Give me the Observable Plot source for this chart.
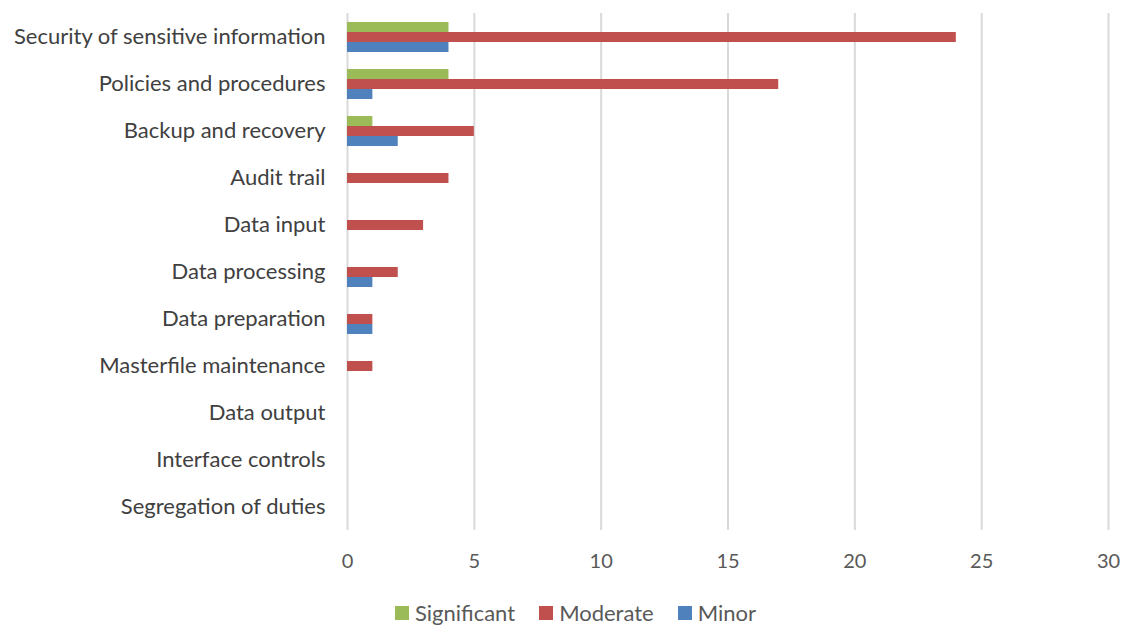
<!DOCTYPE html>
<html>
<head>
<meta charset="utf-8">
<script src="https://cdn.jsdelivr.net/npm/d3@7"></script>
<script src="https://cdn.jsdelivr.net/npm/@observablehq/plot@0.6"></script>
<style>
  html, body { margin: 0; padding: 0; background: #fff; }
  #chart { width: 1121px; }
  .legend { display: flex; justify-content: center; align-items: center; gap: 24px; padding-left: 30px;
            font-family: Lato, "Open Sans", sans-serif; font-size: 22px; color: #595959; margin-top: 7px; }
  .legend .item { display: flex; align-items: center; gap: 6px; }
  .legend .sw { width: 14px; height: 14px; display: inline-block; }
</style>
</head>
<body>
<div id="chart"></div>
<script>
const categories = [
  "Security of sensitive information",
  "Policies and procedures",
  "Backup and recovery",
  "Audit trail",
  "Data input",
  "Data processing",
  "Data preparation",
  "Masterfile maintenance",
  "Data output",
  "Interface controls",
  "Segregation of duties"
];
const seriesNames = ["Significant", "Moderate", "Minor"];
const significant = [4, 4, 1, 0, 0, 0, 0, 0, 0, 0, 0];
const moderate    = [24, 17, 5, 4, 3, 2, 1, 1, 0, 0, 0];
const minor       = [4, 1, 2, 0, 0, 1, 1, 0, 0, 0, 0];
const seriesColors = ["#9BBB59", "#C0504D", "#4F81BD"];
const xTicks = [0, 5, 10, 15, 20, 25, 30];

const seriesValues = [significant, moderate, minor];
const data = categories.flatMap((c, i) =>
  seriesNames.map((s, j) => ({category: c, series: s, value: seriesValues[j][i]}))
);

const chart = Plot.plot({
  width: 1121,
  height: 592,
  marginLeft: 347,
  marginRight: 13,
  marginTop: 12,
  marginBottom: 62,
  style: {fontFamily: "Lato, 'Open Sans', sans-serif", fontSize: "20px", color: "#595959", background: "#fff"},
  x: {domain: [0, 30]},
  fy: {domain: categories, padding: 0, label: null},
  y: {domain: seriesNames, axis: null, paddingInner: 0.05, paddingOuter: 0.8},
  color: {domain: seriesNames, range: seriesColors},
  marks: [
    Plot.gridX(xTicks, {stroke: "#d9d9d9", strokeOpacity: 1, strokeWidth: 2}),
    Plot.barX(data, {fy: "category", y: "series", x: "value", fill: "series"}),
    Plot.axisFy({anchor: "left", tickSize: 0, tickPadding: 22, label: null, fontSize: 22, fill: "#404040"}),
    Plot.axisX(xTicks, {anchor: "bottom", tickSize: 0, tickPadding: 23, label: null, fontSize: 20, fill: "#595959"})
  ]
});
document.getElementById("chart").appendChild(chart);

const legend = document.createElement("div");
legend.className = "legend";
seriesNames.forEach((s, i) => {
  const item = document.createElement("span");
  item.className = "item";
  const sw = document.createElement("span");
  sw.className = "sw";
  sw.style.background = seriesColors[i];
  const t = document.createElement("span");
  t.textContent = s;
  item.appendChild(sw);
  item.appendChild(t);
  legend.appendChild(item);
});
document.getElementById("chart").appendChild(legend);
</script>
</body>
</html>
